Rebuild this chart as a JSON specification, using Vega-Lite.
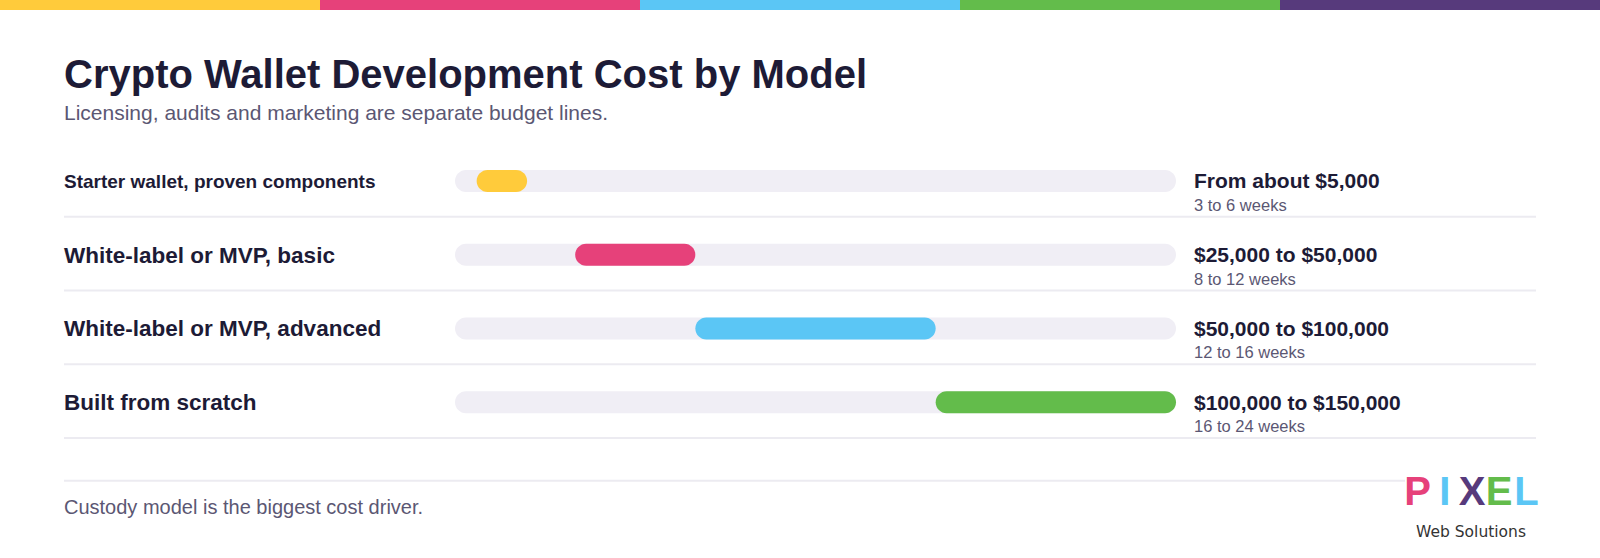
{
  "$schema": "https://vega.github.io/schema/vega-lite/v6.json",
  "background": "white",
  "padding": 0,
  "autosize": {"type": "pad"},
  "config": {"view": {"stroke": null}, "font": "Liberation Sans"},
  "spacing": 46,
  "vconcat": [
    {
      "width": 1472,
      "height": 10,
      "data": {"values": [{"seg": "s1"}, {"seg": "s2"}, {"seg": "s3"}, {"seg": "s4"}, {"seg": "s5"}]},
      "mark": {"type": "rect"},
      "encoding": {
        "x": {"field": "seg", "type": "nominal", "axis": null, "scale": {"range": [-64, 1536], "paddingInner": 0, "paddingOuter": 0}},
        "color": {"field": "seg", "type": "nominal", "legend": null,
          "scale": {"domain": ["s1", "s2", "s3", "s4", "s5"], "range": ["#FFCB3B", "#E6417A", "#5BC6F5", "#63BC4B", "#573A7C"]}}
      }
    },
    {
      "width": 1472,
      "height": 295,
      "title": {
        "text": "Crypto Wallet Development Cost by Model",
        "subtitle": "Licensing, audits and marketing are separate budget lines.",
        "anchor": "start",
        "frame": "group",
        "font": "Liberation Sans",
        "fontSize": 40,
        "fontWeight": "bold",
        "color": "#1D1B36",
        "subtitleFont": "Liberation Sans",
        "subtitleFontSize": 21,
        "subtitleColor": "#5B5773",
        "subtitlePadding": 7,
        "offset": 19
      },
      "data": {"values": [
        {"model": "Starter wallet, proven components", "low": 4500, "high": 15000, "price": "From about $5,000", "weeks": "3 to 6 weeks"},
        {"model": "White-label or MVP, basic", "low": 25000, "high": 50000, "price": "$25,000 to $50,000", "weeks": "8 to 12 weeks"},
        {"model": "White-label or MVP, advanced", "low": 50000, "high": 100000, "price": "$50,000 to $100,000", "weeks": "12 to 16 weeks"},
        {"model": "Built from scratch", "low": 100000, "high": 150000, "price": "$100,000 to $150,000", "weeks": "16 to 24 weeks"}
      ]},
      "encoding": {
        "y": {"field": "model", "type": "nominal",
          "scale": {"domain": ["Starter wallet, proven components", "White-label or MVP, basic", "White-label or MVP, advanced", "Built from scratch"], "paddingInner": 0, "paddingOuter": 0},
          "axis": {"labels": false, "ticks": false, "domain": false, "grid": false, "title": null, "minExtent": 64, "maxExtent": 64}}
      },
      "resolve": {"scale": {"x": "independent", "color": "independent"}},
      "layer": [
        {
          "mark": {"type": "rule", "color": "#ECEBF1", "strokeWidth": 2},
          "encoding": {"y": {"field": "model", "type": "nominal", "bandPosition": 1}}
        },
        {
          "mark": {"type": "bar", "size": 22, "cornerRadius": 11, "color": "#F0EEF5", "yOffset": 1},
          "encoding": {
            "x": {"datum": 0, "type": "quantitative", "axis": null, "scale": {"domain": [0, 150000], "range": [391, 1112]}},
            "x2": {"datum": 150000}
          }
        },
        {
          "mark": {"type": "bar", "size": 22, "cornerRadius": 11, "yOffset": 1},
          "encoding": {
            "x": {"field": "low", "type": "quantitative", "axis": null, "scale": {"domain": [0, 150000], "range": [391, 1112]}},
            "x2": {"field": "high"},
            "color": {"field": "model", "type": "nominal", "legend": null,
              "scale": {"domain": ["Starter wallet, proven components", "White-label or MVP, basic", "White-label or MVP, advanced", "Built from scratch"], "range": ["#FFCB3B", "#E6417A", "#5BC6F5", "#63BC4B"]}}
          }
        },
        {
          "mark": {"type": "text", "align": "left", "baseline": "middle", "fontWeight": "bold", "color": "#1D1B36", "font": "Liberation Sans", "dy": 2},
          "encoding": {
            "x": {"value": 0},
            "text": {"field": "model"},
            "size": {"condition": {"test": "datum.model === 'Starter wallet, proven components'", "value": 19}, "value": 22.5}
          }
        },
        {
          "mark": {"type": "text", "align": "left", "baseline": "middle", "fontWeight": "bold", "fontSize": 21, "dx": 18, "dy": 2.5, "color": "#1D1B36", "font": "Liberation Sans"},
          "encoding": {
            "x": {"datum": 150000, "type": "quantitative", "axis": null, "scale": {"domain": [0, 150000], "range": [391, 1112]}},
            "text": {"field": "price"}
          }
        },
        {
          "mark": {"type": "text", "align": "left", "baseline": "middle", "fontSize": 16.5, "dx": 18, "dy": 26, "color": "#5B5773", "font": "Liberation Sans"},
          "encoding": {
            "x": {"datum": 150000, "type": "quantitative", "axis": null, "scale": {"domain": [0, 150000], "range": [391, 1112]}},
            "text": {"field": "weeks"}
          }
        },
        {
          "data": {"values": [{}]},
          "mark": {"type": "rule", "color": "#ECEBF1", "strokeWidth": 2},
          "encoding": {"x": {"value": 0}, "x2": {"value": 1341}, "y": {"value": 337.7}}
        },
        {
          "data": {"values": [{}]},
          "mark": {"type": "text", "align": "left", "baseline": "middle", "fontSize": 20, "color": "#5B5773", "font": "Liberation Sans", "text": "Custody model is the biggest cost driver."},
          "encoding": {"x": {"value": 0}, "y": {"value": 365.4}}
        },
        {
          "data": {"values": [{"letter": "P"}, {"letter": "I"}, {"letter": "X"}, {"letter": "E"}, {"letter": "L"}]},
          "mark": {"type": "text", "align": "center", "baseline": "middle", "fontSize": 40, "fontWeight": "bold", "font": "Liberation Sans"},
          "encoding": {
            "x": {"field": "letter", "type": "nominal", "axis": null, "scale": {"domain": ["P", "I", "X", "E", "L"], "range": [1340, 1476], "paddingInner": 0, "paddingOuter": 0}},
            "y": {"value": 350},
            "text": {"field": "letter"},
            "color": {"field": "letter", "type": "nominal", "legend": null,
              "scale": {"domain": ["P", "I", "X", "E", "L"], "range": ["#E6417A", "#5BC6F5", "#573A7C", "#63BC4B", "#5BC6F5"]}}
          }
        },
        {
          "data": {"values": [{}]},
          "mark": {"type": "text", "align": "center", "baseline": "middle", "fontSize": 15.5, "color": "#333333", "font": "DejaVu Sans", "text": "Web Solutions"},
          "encoding": {"x": {"value": 1407}, "y": {"value": 388.5}}
        }
      ]
    }
  ]
}
